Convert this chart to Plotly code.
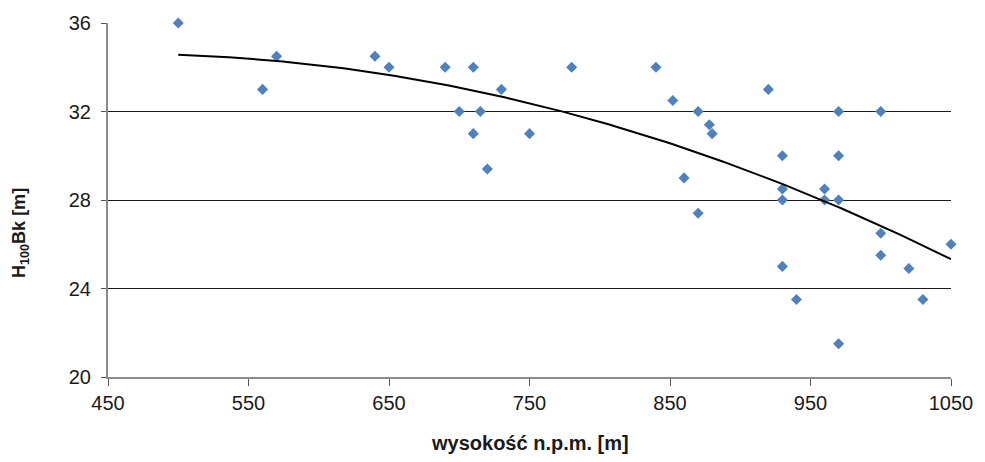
import numpy as np
import plotly.graph_objects as go

# Data
altitude = [500, 560, 570, 640, 650, 690, 700, 710, 710, 715, 720, 730, 750, 780,
            840, 852, 860, 870, 870, 878, 880, 920, 930, 930, 930, 930, 940, 960,
            960, 970, 970, 970, 970, 1000, 1000, 1000, 1020, 1030, 1050]
h100 = [36, 33, 34.5, 34.5, 34, 34, 32, 34, 31, 32, 29.4, 33, 31, 34,
        34, 32.5, 29, 32, 27.4, 31.4, 31, 33, 30, 28.5, 28, 25, 23.5, 28.5,
        28, 32, 30, 28, 21.5, 32, 26.5, 25.5, 24.9, 23.5, 26]

x_ticks = [450, 550, 650, 750, 850, 950, 1050]
y_ticks = [20, 24, 28, 32, 36]

# Polynomial (order 2) trend line fitted to the data, as in the original chart
coef = np.polyfit(altitude, h100, 2)
trend_x = np.linspace(min(altitude), max(altitude), 200)
trend_y = np.polyval(coef, trend_x)

fig = go.Figure()
fig.add_trace(go.Scatter(
    x=altitude, y=h100, mode="markers",
    marker=dict(symbol="diamond", size=8.5, color="#4F81BD", line=dict(width=0)),
    showlegend=False, cliponaxis=False))
fig.add_trace(go.Scatter(
    x=trend_x, y=trend_y, mode="lines",
    line=dict(color="#000000", width=2), showlegend=False))

font_family = "Liberation Sans, Arial, sans-serif"
fig.update_layout(
    width=985, height=462,
    margin=dict(l=108, r=31, t=19, b=85),
    paper_bgcolor="white", plot_bgcolor="white",
    font=dict(family=font_family, size=20, color="#1a1a1a"),
    xaxis=dict(range=[450, 1050], tickvals=x_ticks, ticktext=[str(v) for v in x_ticks],
               showgrid=False, zeroline=False, showline=True, linecolor="#8c8c8c",
               linewidth=2, ticks="outside", ticklen=7, tickcolor="#555555", tickwidth=1,
               tickfont=dict(size=20), fixedrange=True),
    yaxis=dict(range=[20, 36], tickvals=y_ticks, ticktext=[str(v) for v in y_ticks],
               showgrid=True, gridcolor="#1a1a1a", gridwidth=1, zeroline=False,
               showline=True, linecolor="#8c8c8c", linewidth=2, ticks="outside",
               ticklen=5, tickcolor="#555555", tickwidth=1, tickfont=dict(size=20),
               ticklabelstandoff=6, fixedrange=True),
    annotations=[
        dict(text="<b>wysokość n.p.m. [m]</b>", xref="paper", yref="paper",
             x=0.5, y=-0.187, xanchor="center", yanchor="middle", showarrow=False,
             font=dict(size=20, family=font_family, color="#1a1a1a")),
        dict(text="<b>H<sub>100</sub>Bk [m]</b>", xref="paper", yref="paper",
             x=-0.104, y=0.408, xanchor="center", yanchor="middle", textangle=-90,
             showarrow=False, font=dict(size=18, family=font_family, color="#1a1a1a")),
    ],
)

fig.write_html("out.html")
